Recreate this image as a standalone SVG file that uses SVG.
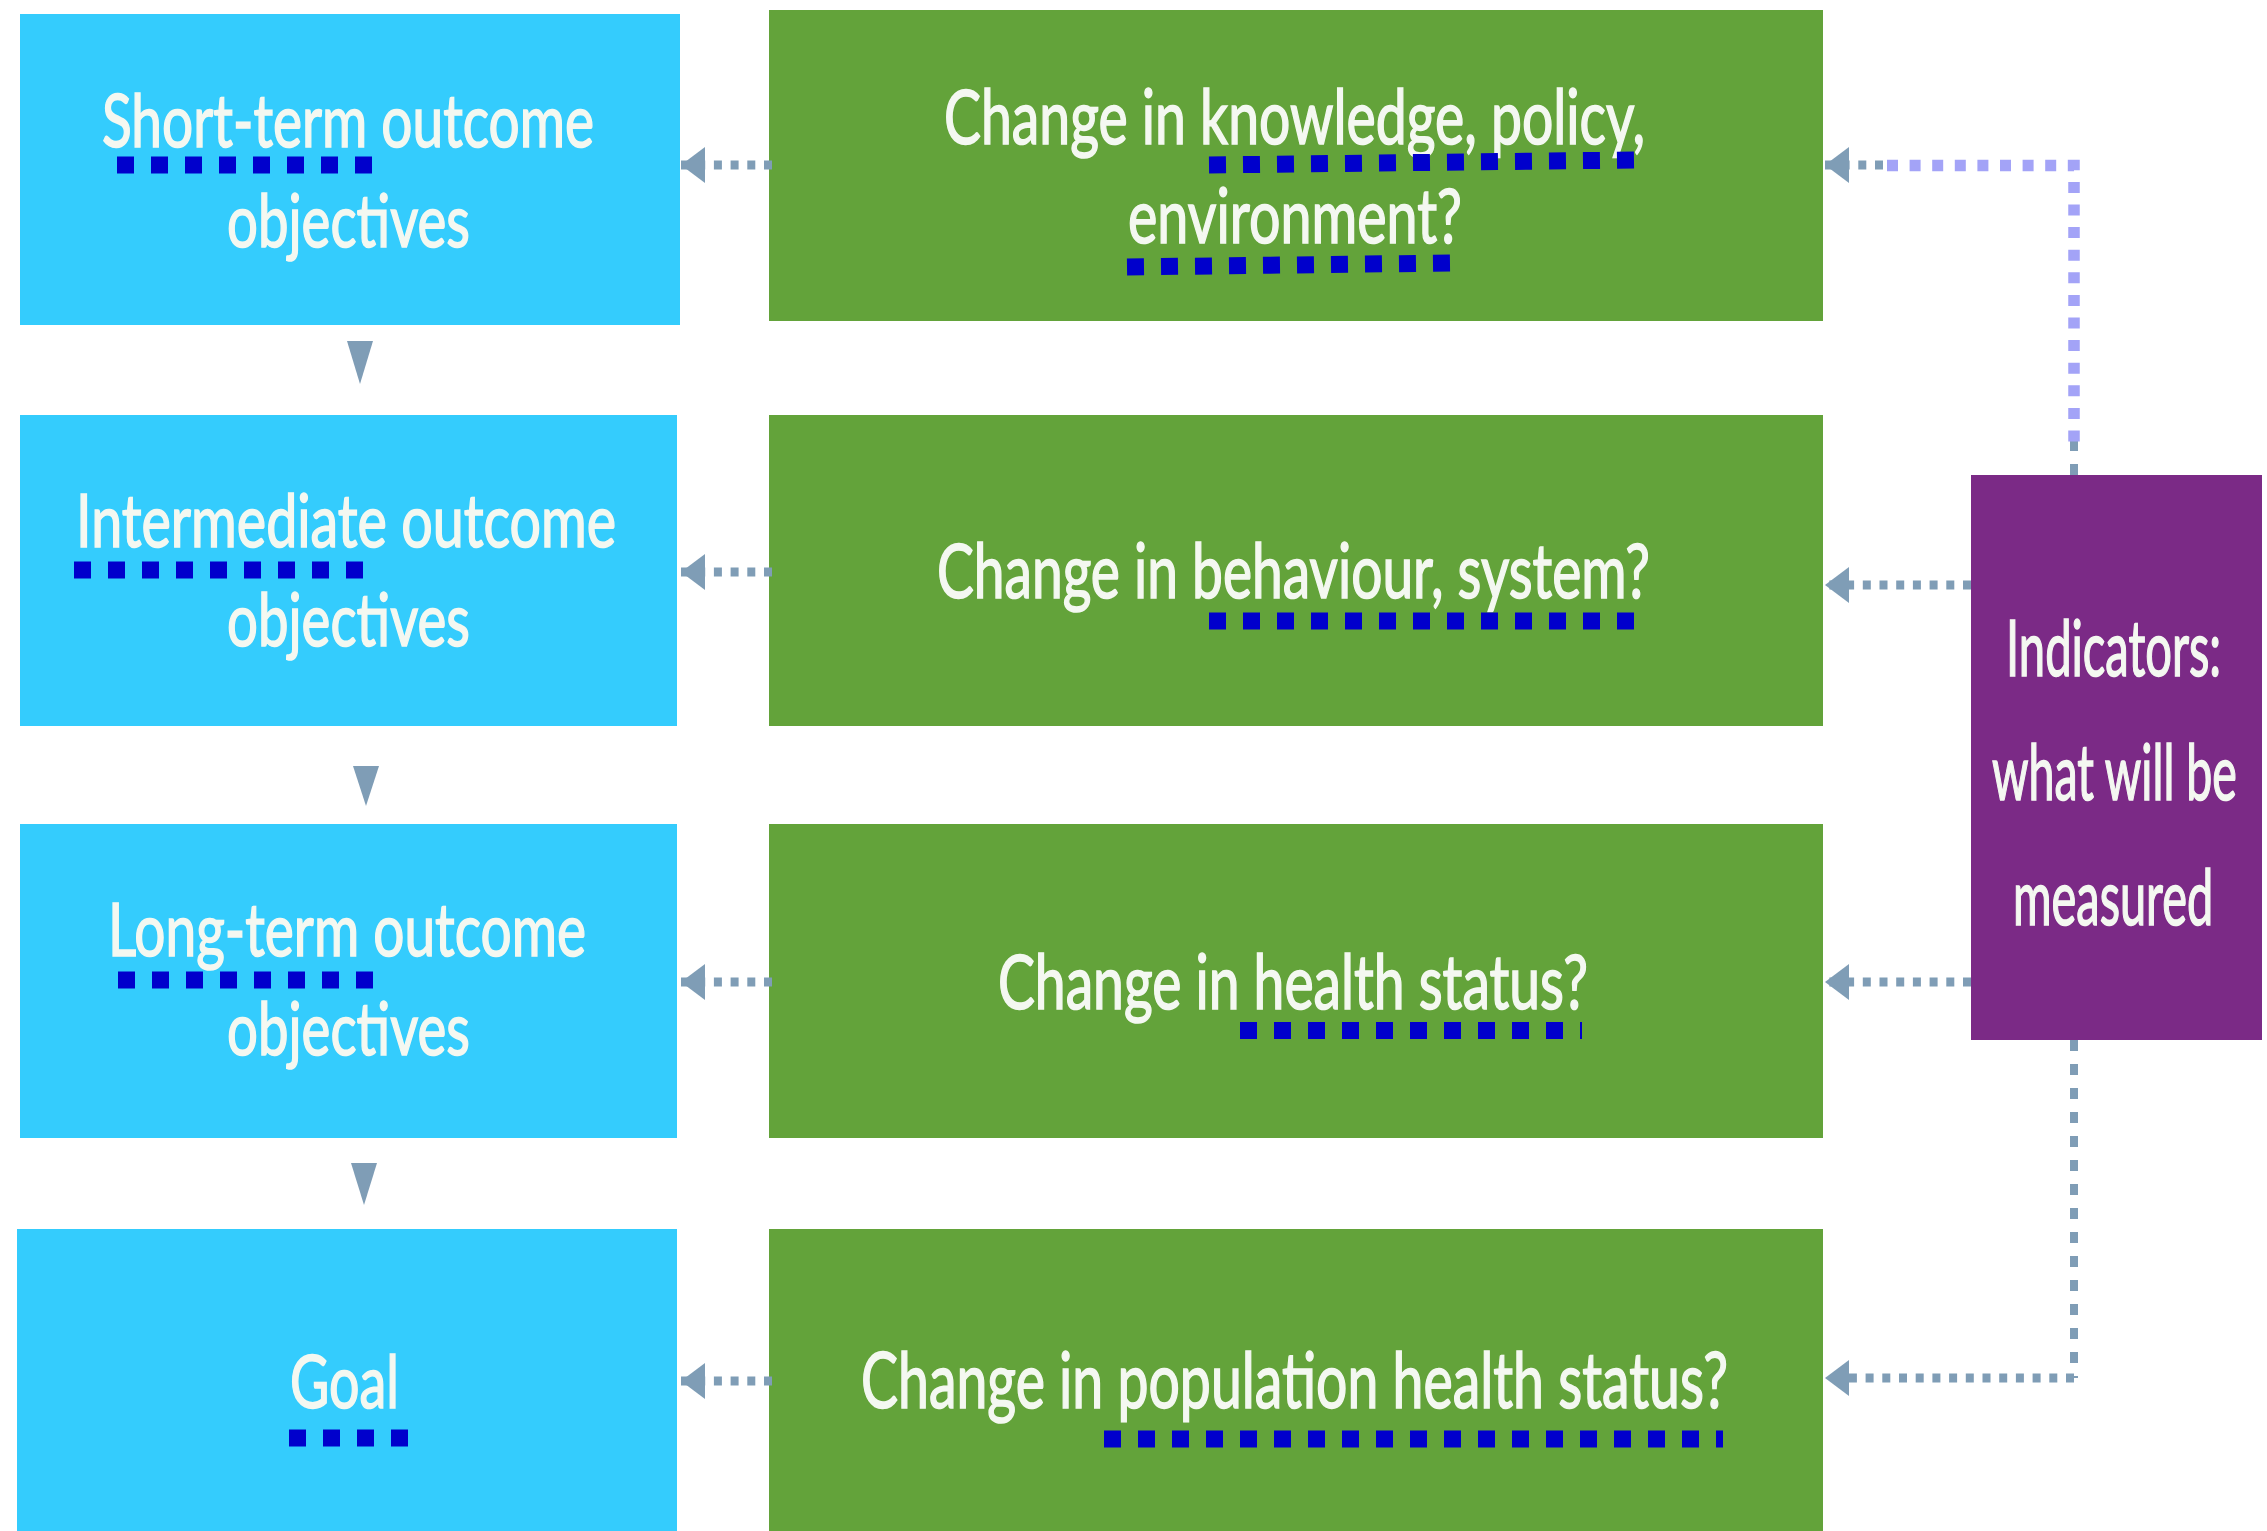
<svg xmlns="http://www.w3.org/2000/svg" width="2267" height="1531" viewBox="0 0 2267 1531">
<style>
.bg{fill:#ffffff}
.blue{fill:#34ccfd}
.green{fill:#63a33a}
.purple{fill:#7b2a86}
.t{font-family:Lato,"Open Sans","Liberation Sans",sans-serif;fill:#f4f8f1;stroke:#f4f8f1;stroke-width:1.6;font-size:74px}
.tg{font-size:76px}
.tp{font-size:78px}
.ul{stroke:#0000cc;stroke-width:17;stroke-dasharray:17 17;fill:none}
.conn{stroke:#7f9db6;stroke-width:9;stroke-dasharray:8 8.7;fill:none}
.connv{stroke:#7f9db6;stroke-width:8;stroke-dasharray:11 13;fill:none}
.lav{stroke:#a3a3f7;stroke-width:11.5;stroke-dasharray:11 11.6;fill:none}
.tri{fill:#7f9db6}
</style>
<defs>
<marker id="ah" markerUnits="userSpaceOnUse" viewBox="0 0 24 36" refX="24" refY="18" markerWidth="24" markerHeight="36" orient="auto">
<path d="M0,0 L24,18 L0,36 Z" fill="#7f9db6"/>
</marker>
</defs>
<rect class="bg" x="0" y="0" width="2267" height="1531"/>

<g id="short-term">
<rect class="blue" x="20" y="14" width="660" height="311"/>
<text class="t" x="102" y="147" textLength="492" lengthAdjust="spacingAndGlyphs">Short-term outcome</text>
<text class="t" x="227" y="247" textLength="243" lengthAdjust="spacingAndGlyphs">objectives</text>
</g>
<g id="intermediate">
<rect class="blue" x="20" y="415" width="657" height="311"/>
<text class="t" x="76" y="547" textLength="540" lengthAdjust="spacingAndGlyphs">Intermediate outcome</text>
<text class="t" x="227" y="646" textLength="243" lengthAdjust="spacingAndGlyphs">objectives</text>
</g>
<g id="long-term">
<rect class="blue" x="20" y="824" width="657" height="314"/>
<text class="t" x="108" y="956" textLength="478" lengthAdjust="spacingAndGlyphs">Long-term outcome</text>
<text class="t" x="227" y="1055" textLength="243" lengthAdjust="spacingAndGlyphs">objectives</text>
</g>
<g id="goal">
<rect class="blue" x="17" y="1229" width="660" height="302"/>
<text class="t" x="290" y="1408" textLength="109" lengthAdjust="spacingAndGlyphs">Goal</text>
</g>

<g id="change-knowledge">
<rect class="green" x="769" y="10" width="1054" height="311"/>
<text class="t tg" x="944" y="144" textLength="701" lengthAdjust="spacingAndGlyphs">Change in knowledge, policy,</text>
<text class="t tg" x="1128" y="243" textLength="334" lengthAdjust="spacingAndGlyphs">environment?</text>
</g>
<g id="change-behaviour">
<rect class="green" x="769" y="415" width="1054" height="311"/>
<text class="t tg" x="937" y="598" textLength="713" lengthAdjust="spacingAndGlyphs">Change in behaviour, system?</text>
</g>
<g id="change-health">
<rect class="green" x="769" y="824" width="1054" height="314"/>
<text class="t tg" x="998" y="1009" textLength="590" lengthAdjust="spacingAndGlyphs">Change in health status?</text>
</g>
<g id="change-population">
<rect class="green" x="769" y="1229" width="1054" height="302"/>
<text class="t tp" x="861" y="1408" textLength="867" lengthAdjust="spacingAndGlyphs">Change in population health status?</text>
</g>

<g id="indicators">
<rect class="purple" x="1971" y="475" width="291" height="565"/>
<text class="t tp" transform="translate(2006,676) scale(0.62,1)" x="0" y="0" textLength="347" lengthAdjust="spacingAndGlyphs">Indicators:</text>
<text class="t tp" transform="translate(1992,800) scale(0.62,1)" x="0" y="0" textLength="395" lengthAdjust="spacingAndGlyphs">what will be</text>
<text class="t tp" transform="translate(2013,925) scale(0.62,1)" x="0" y="0" textLength="323" lengthAdjust="spacingAndGlyphs">measured</text>
</g>

<g id="connectors">
<polygon class="tri" points="347,341 373,341 360,384"/>
<polygon class="tri" points="353,766 379,766 366,806"/>
<polygon class="tri" points="351,1163 377,1163 364,1205"/>
<path class="conn" d="M772,165 L681,165" marker-end="url(#ah)"/>
<path class="conn" d="M772,572 L681,572" marker-end="url(#ah)"/>
<path class="conn" d="M772,982 L681,982" marker-end="url(#ah)"/>
<path class="conn" d="M772,1381 L681,1381" marker-end="url(#ah)"/>
<path class="connv" d="M2074,475 L2074,441"/>
<path class="lav" d="M1887,165.5 L2074,165.5 L2074,442"/>
<path class="conn" d="M1883,165 L1825,165" marker-end="url(#ah)"/>
<path class="conn" d="M1971,585 L1825,585" marker-end="url(#ah)"/>
<path class="conn" d="M1971,982 L1825,982" marker-end="url(#ah)"/>
<path class="connv" d="M2074,1040 L2074,1378"/>
<path class="conn" d="M2074,1378 L1825,1378" marker-end="url(#ah)"/>
</g>

<g id="underlines">
<path class="ul" d="M117,165 L373,165"/>
<path class="ul" d="M74,570 L363,570"/>
<path class="ul" d="M118,980 L374,980"/>
<path class="ul" d="M289,1438 L408,1438"/>
<path class="ul" d="M1209,165 L1634,160"/>
<path class="ul" d="M1127,267 L1450,263"/>
<path class="ul" d="M1209,621 L1634,621"/>
<path class="ul" d="M1240,1030.5 L1582,1030.5"/>
<path class="ul" d="M1104,1439 L1723,1439"/>
</g>
</svg>
